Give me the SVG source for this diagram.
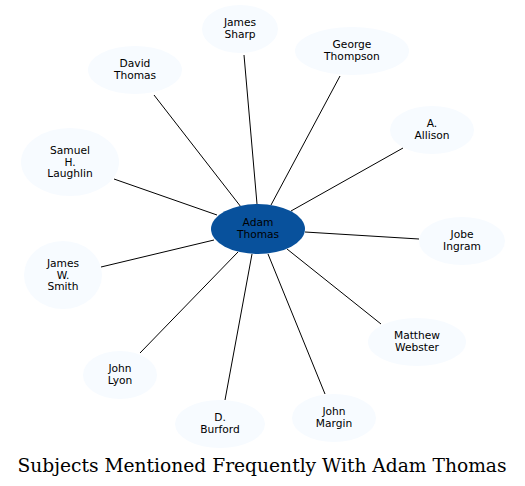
<svg xmlns="http://www.w3.org/2000/svg" width="525" height="486" viewBox="0 0 525 486">
<style>
.n{fill:#f7fbff;stroke:none}
.c{fill:#08519c;stroke:none}
.t{font-family:"DejaVu Sans",sans-serif;font-size:10.67px;text-anchor:middle;fill:#000}
.e{stroke:#000;stroke-width:1;fill:none}
.title{font-family:"DejaVu Serif",serif;font-size:18.67px;text-anchor:middle;fill:#000}
</style>
<rect width="525" height="486" fill="#fff"/>
<g id="edges">
<line class="e" x1="257" y1="204" x2="244" y2="55"/>
<line class="e" x1="271" y1="205" x2="340" y2="76"/>
<line class="e" x1="241" y1="207" x2="154" y2="95"/>
<line class="e" x1="291" y1="211" x2="403" y2="148"/>
<line class="e" x1="217" y1="215" x2="114" y2="179"/>
<line class="e" x1="305" y1="232" x2="419" y2="239"/>
<line class="e" x1="214" y1="240" x2="101" y2="267"/>
<line class="e" x1="287" y1="249" x2="381" y2="324"/>
<line class="e" x1="238" y1="252" x2="140" y2="353"/>
<line class="e" x1="252" y1="254" x2="225" y2="400"/>
<line class="e" x1="268" y1="254" x2="325" y2="394"/>
</g>
<g id="adam_thomas"><ellipse class="c" cx="258" cy="229" rx="47" ry="25"/><text class="t" x="258" y="225.5">Adam</text><text class="t" x="258" y="237.5">Thomas</text></g>
<g id="james_sharp"><ellipse class="n" cx="240" cy="29" rx="38" ry="24"/><text class="t" x="240" y="26">James</text><text class="t" x="240" y="38">Sharp</text></g>
<g id="george_thompson"><ellipse class="n" cx="352" cy="51" rx="57" ry="24"/><text class="t" x="352" y="48">George</text><text class="t" x="352" y="60">Thompson</text></g>
<g id="david_thomas"><ellipse class="n" cx="135" cy="70" rx="47" ry="24"/><text class="t" x="135" y="67">David</text><text class="t" x="135" y="79">Thomas</text></g>
<g id="a_allison"><ellipse class="n" cx="432" cy="130" rx="42" ry="24"/><text class="t" x="432" y="127">A.</text><text class="t" x="432" y="139">Allison</text></g>
<g id="samuel_h_laughlin"><ellipse class="n" cx="70" cy="162" rx="49" ry="34"/><text class="t" x="70" y="154">Samuel</text><text class="t" x="70" y="165.5">H.</text><text class="t" x="70" y="177">Laughlin</text></g>
<g id="jobe_ingram"><ellipse class="n" cx="462" cy="241" rx="43" ry="24"/><text class="t" x="462" y="238">Jobe</text><text class="t" x="462" y="250">Ingram</text></g>
<g id="james_w_smith"><ellipse class="n" cx="63" cy="275" rx="39" ry="34"/><text class="t" x="63" y="267">James</text><text class="t" x="63" y="278.5">W.</text><text class="t" x="63" y="290">Smith</text></g>
<g id="matthew_webster"><ellipse class="n" cx="417" cy="342" rx="49" ry="24"/><text class="t" x="417" y="339">Matthew</text><text class="t" x="417" y="351">Webster</text></g>
<g id="john_lyon"><ellipse class="n" cx="120" cy="375" rx="37" ry="24"/><text class="t" x="120" y="372">John</text><text class="t" x="120" y="384">Lyon</text></g>
<g id="d_burford"><ellipse class="n" cx="220" cy="424" rx="45" ry="24"/><text class="t" x="220" y="421">D.</text><text class="t" x="220" y="433">Burford</text></g>
<g id="john_margin"><ellipse class="n" cx="334" cy="418" rx="42" ry="24"/><text class="t" x="334" y="415">John</text><text class="t" x="334" y="427">Margin</text></g>
<text class="title" x="262" y="472">Subjects Mentioned Frequently With Adam Thomas</text>
</svg>
